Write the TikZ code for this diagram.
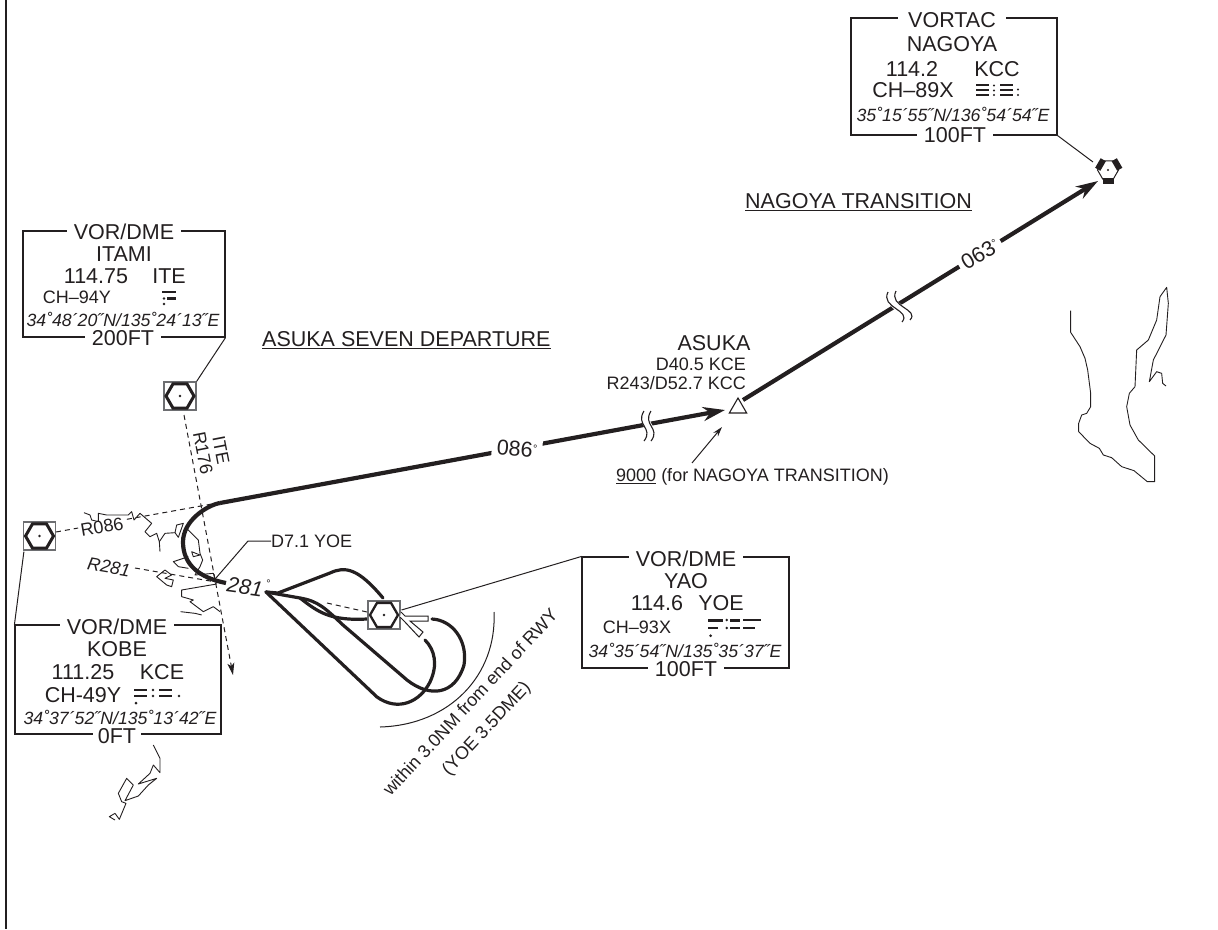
\documentclass[tikz,border=0pt]{standalone}
\usepackage{fontspec}
\setmainfont{Liberation Sans}
\usetikzlibrary{arrows.meta,shapes.geometric}
\definecolor{chartink}{HTML}{231F20}
\definecolor{symgray}{HTML}{6D6E71}
\tikzset{
  every node/.style={text=chartink,inner sep=0pt},
  txt/.style={font=\fontsize{21.5}{21.5}\selectfont},
  small/.style={font=\fontsize{18}{18}\selectfont},
  coords/.style={font=\fontsize{17.7}{17.7}\selectfont\itshape},
  gapped/.style={txt,fill=white,inner xsep=7pt,inner ysep=0pt},
  stationbox/.style={draw=chartink,fill=white,line width=1.1pt,rectangle},
  navbox/.style={draw=symgray,line width=1.2pt,fill=white,rectangle,minimum width=32pt,minimum height=28pt},
  navhex/.style={draw=chartink,regular polygon,regular polygon sides=6,minimum size=28pt},
  tacanbar/.style={fill=chartink,rectangle,minimum width=11pt,minimum height=6pt},
  route/.style={draw=chartink,line width=4.2pt},
  track/.style={draw=chartink,line width=3.2pt,line cap=round},
  radial/.style={draw=chartink,line width=1pt,dash pattern=on 5pt off 4pt},
  thin line/.style={draw=chartink,line width=1pt},
  coast/.style={draw=chartink,line width=0.9pt,line join=round},
  squig/.style={draw=chartink,line width=1.1pt},
  morse/.style={draw=chartink,line width=2.2pt},
}
\newcommand{\degmark}{\raisebox{0.25em}{\fontsize{11}{11}\selectfont°}}
\begin{document}
\begin{tikzpicture}[x=1pt,y=-1pt]
  \useasboundingbox (0,0) rectangle (1218,929);
  \draw[draw=chartink,line width=1.7pt] (6,0) -- (6,929);

  \draw[coast,shift={(1020,270)},scale=0.33333] (152,122) -- (152,187) -- (180,230) -- (195,265) -- (203,300) -- (212,370) -- (212,410) -- (200,430) -- (185,435) -- (176,460) -- (176,485) -- (210,520) -- (238,535) -- (250,555) -- (275,563) -- (305,590) -- (342,602) -- (382,635) -- (404,635) -- (404,558) -- (355,510) -- (330,465) -- (320,410) -- (328,370) -- (345,350) -- (350,240) -- (385,210) -- (410,150) -- (420,80) -- (440,52) -- (445,100) -- (438,195) -- (400,270) -- (388,335) -- (410,305) -- (425,310) -- (428,340) -- (438,348);
  \draw[coast,shift={(0,370)},scale=0.33333] (252,428) -- (270,435) -- (275,450) -- (295,455) -- (295,430) -- (320,435) -- (385,435) -- (395,425) -- (402,450) -- (420,430) -- (455,460) -- (435,485) -- (450,500) -- (470,490) -- (478,515) -- (480,545);
  \draw[coast,shift={(0,370)},scale=0.33333] (478,515) -- (495,490) -- (525,488) -- (530,465) -- (550,460) -- (535,502) -- (525,488);
  \draw[coast,shift={(0,370)},scale=0.33333] (560,475) -- (595,510) -- (600,550) -- (608,570) -- (600,590) -- (585,615) -- (640,610) -- (650,640);
  \draw[coast,shift={(0,370)},scale=0.33333] (575,545) -- (600,555) -- (580,560) -- cycle;
  \draw[coast,shift={(0,370)},scale=0.33333] (565,560) -- (520,575) -- (535,590) -- (565,595);
  \draw[coast,shift={(0,370)},scale=0.33333] (470,620) -- (495,600) -- (515,615) -- (495,625) -- (520,630) -- (515,650) -- (500,645) -- cycle;
  \draw[coast,shift={(0,370)},scale=0.33333] (650,642) -- (545,660) -- (545,680) -- (580,690) -- (570,695) -- (610,725) -- (640,710) -- (660,725);
  \draw[coast,shift={(0,370)},scale=0.33333] (542,725) -- (585,730) -- (605,735);
  \draw[coast,shift={(0,610)},scale=0.33333] (460,405) -- (480,445) -- (480,488) -- (460,465) -- (450,490) -- (415,522) -- (470,505) -- (445,525) -- (415,558) -- (375,572) -- (400,525) -- (380,505) -- (355,550) -- (365,575) -- (378,580) -- (358,628) -- (345,610) -- (328,620) -- (345,630);

  \node[navbox] (itami) at (180,396) {};
  \node[navhex,line width=3pt] (itamihex) at (itami) {};
  \fill[chartink] (itami) circle (1.4);
  \node[navbox] (kobe) at (39.5,536) {};
  \node[navhex,line width=3pt] (kobehex) at (kobe) {};
  \fill[chartink] (kobe) circle (1.4);

  \coordinate (itestart) at (184,415);
  \coordinate (iteend) at (233,675);
  \draw[radial,-{Stealth[length=12pt,width=7pt,inset=3pt]}] (itestart) -- (iteend);
  \coordinate (kobeend) at (212,504);
  \draw[radial] (56,532) -- (kobeend);
  \coordinate (yaoin) at (135,568);
  \coordinate (yaoend) at (216,582);
  \draw[radial] (yaoin) -- (yaoend);

  \coordinate (turnend) at (220,503);
  \coordinate (asukain) at (725,410);
  \node[draw=chartink,line width=1.1pt,regular polygon,regular polygon sides=3,minimum size=20pt] (asuka) at (738,408) {};
  \draw[route,-{Stealth[length=22pt,width=14pt,inset=7pt]}] (turnend) -- (asukain);
  \draw[route] (turnend) .. controls (208,505) and (183,520) .. (183,542) .. controls (183,565) and (200,578) .. (226,583);
  \coordinate (asukaout) at (743,400);
  \coordinate (nagoyain) at (1098,181);
  \draw[route,-{Stealth[length=22pt,width=14pt,inset=7pt]}] (asukaout) -- (nagoyain);

  \draw[white,line width=8pt] (648,411) .. controls (639,425) and (658,428) .. (648,441);
  \draw[squig] (644,411) .. controls (635,425) and (654,428) .. (644,441);
  \draw[squig] (651,411) .. controls (642,425) and (661,428) .. (651,441);
  \draw[white,line width=8pt] (892,291.5) .. controls (884,308) and (916,310) .. (906,321);
  \draw[squig] (888,292) .. controls (880,308) and (912,310) .. (902,322);
  \draw[squig] (896,291) .. controls (888,307) and (920,309) .. (910,320);

  \node[txt,fill=white,inner xsep=5pt,inner ysep=3pt,rotate=-5] (routelabela) at (517,449) {086\degmark};
  \node[txt,fill=white,inner xsep=4pt,inner ysep=2pt,rotate=31] (routelabelb) at (980,254) {063\degmark};

  \coordinate (holdstart) at (266,592);
  \draw[track] (holdstart) -- (278,593) -- (330,573) .. controls (345,566) and (358,568) .. (383,598);
  \draw[track] (holdstart) -- (377,697) .. controls (398,712) and (420,702) .. (430,682) .. controls (438,665) and (435,650) .. (425,640);
  \draw[track] (holdstart) -- (300,598) .. controls (318,601) and (325,608) .. (343,625) -- (407,680) .. controls (430,698) and (455,695) .. (464,665) .. controls (468,640) and (452,620) .. (432,619);
  \draw[track] (300,598) .. controls (318,612) and (330,621) .. (367,619);
  \coordinate (rwystart) at (327,603);
  \coordinate (yaodash) at (367,612);
  \draw[radial] (rwystart) -- (yaodash);
  \node[navbox] (yao) at (384,615) {};
  \node[navhex,line width=2.3pt] (yaohex) at (yao) {};
  \fill[chartink] (yao) circle (1.4);
  \draw[draw=chartink,fill=white,line width=1pt] (401,612) -- (405,616) -- (428,616) -- (428,621) -- (410,621) -- (423,632) -- (419,637) -- (405,622) -- (400,617);

  \node[navhex,minimum size=21pt,line width=1pt] (nagoya) at (1108,170) {};
  \fill[chartink] (nagoya) circle (1.2);
  \node[tacanbar] (tacana) at (1108.5,180.5) {};
  \node[tacanbar,rotate=60] (tacanb) at (1100.5,164.5) {};
  \node[tacanbar,rotate=-60] (tacanc) at (1117,164.5) {};

  \draw[thin line] (380,727) .. controls (450,725) and (497,675) .. (494,612);
  \node[small,rotate=47] (rwylabel) at (470,702) {within 3.0NM from end of RWY};
  \node[small,rotate=47] (dmelabel) at (487,729) {(YOE 3.5DME)};

  \node[stationbox,minimum width=206pt,minimum height=117pt] (nagoyabox) at (954,76.5) {};
  \node[gapped,inner xsep=10pt] (nagoyatype) at (952,20) {VORTAC};
  \node[txt] (nagoyaname) at (952,44) {NAGOYA};
  \node[txt] (nagoyafreq) at (912,69) {114.2};
  \node[txt] (nagoyaid) at (997,69) {KCC};
  \node[txt] (nagoyach) at (913,90) {CH–89X};
  \node[coords] (nagoyapos) at (953,114) {35˚15´55˝N/136˚54´54˝E};
  \node[gapped] (nagoyaalt) at (955,135) {100FT};
  \draw[morse,line width=1.5pt] (976,85) -- (989,85) (976,90) -- (989,90) (976,95) -- (989,95) (1000,85) -- (1013,85) (1000,90) -- (1013,90) (1000,95) -- (1013,95);
  \fill[chartink] (994,85.5) circle (1.1) (994,90.5) circle (1.1) (994,95) circle (1.1) (1018,89.5) circle (1.1) (1018,95) circle (1.1);
  \draw[thin line] (nagoyabox.south east) -- (1093,162);

  \node[stationbox,minimum width=202pt,minimum height=106pt] (itamibox) at (124,284) {};
  \node[gapped] (itamitype) at (124,232) {VOR/DME};
  \node[txt] (itaminame) at (124,254) {ITAMI};
  \node[txt] (itamifreq) at (96,276) {114.75};
  \node[txt] (itamiid) at (169,276) {ITE};
  \node[small] (itamich) at (77,297) {CH–94Y};
  \node[coords] (itamipos) at (123,319) {34˚48´20˝N/135˚24´13˝E};
  \node[gapped] (itamialt) at (123,338) {200FT};
  \draw[morse] (162,291.7) -- (176,291.7) (167,298.5) -- (176,298.5);
  \fill[chartink] (164,298.5) circle (1.4) (164,304) circle (1.4);
  \draw[thin line] (itamibox.south east) -- (itami.north east);

  \node[stationbox,minimum width=206pt,minimum height=109pt] (kobebox) at (118,679.5) {};
  \node[gapped] (kobetype) at (117,627) {VOR/DME};
  \node[txt] (kobename) at (117,649) {KOBE};
  \node[txt] (kobefreq) at (83,672) {111.25};
  \node[txt] (kobeid) at (162,672) {KCE};
  \node[txt] (kobech) at (83,695) {CH-49Y};
  \node[coords] (kobepos) at (120,717) {34˚37´52˝N/135˚13´42˝E};
  \node[gapped,inner xsep=5pt] (kobealt) at (117,736) {0FT};
  \draw[morse] (134,690) -- (147,690) (134,696) -- (147,696) (159,690) -- (172,690) (159,696) -- (172,696);
  \fill[chartink] (136,703) circle (1.5) (153,690) circle (1.4) (153,696) circle (1.4) (179,696) circle (1.4);
  \draw[thin line] (kobe.south west) ++(1,1) -- (kobebox.north west);

  \node[stationbox,minimum width=207pt,minimum height=111pt] (yaobox) at (685.5,612.5) {};
  \node[gapped] (yaotype) at (686,559) {VOR/DME};
  \node[txt] (yaoname) at (686,581) {YAO};
  \node[txt] (yaofreq) at (657,603) {114.6};
  \node[txt] (yaoid) at (721,603) {YOE};
  \node[small] (yaoch) at (637,627) {CH–93X};
  \node[coords] (yaopos) at (685,650) {34˚35´54˝N/135˚35´37˝E};
  \node[gapped] (yaoalt) at (686,669) {100FT};
  \draw[morse] (708,620.5) -- (723,620.5) (708,628) -- (718,628) (730,620.5) -- (740,620.5) (730,628) -- (740,628) (743,620) -- (761,620) (743,628) -- (755,628);
  \fill[chartink] (710.7,635.7) circle (1.5) (726.7,620) circle (1.4) (726.7,628) circle (1.4);
  \draw[thin line] (yaobox.north west) -- (401.5,610);

  \node[small,anchor=west] (d71label) at (271,541) {D7.1 YOE};
  \coordinate (d71knee) at (248,541);
  \draw[thin line] (216,578) -- (d71knee) -- (d71label.west);
  \node[txt,rotate=-8] (holdlabel) at (245,587) {\itshape 281};
  \node[font=\fontsize{11}{11}\selectfont] (holddeg) at (268.5,584) {°};
  \node[small,rotate=10,fill=white,inner xsep=2pt] (r086label) at (102,527) {R086};
  \node[small,rotate=-10] (r281label) at (109,567) {\itshape R281};
  \node[small,rotate=-79] (r176label) at (203,453) {R176};
  \node[small,rotate=-79] (itelabel) at (221,450) {ITE};

  \node[txt] (asukaname) at (714,343) {ASUKA};
  \node[small,anchor=east] (asukad) at (746,364) {D40.5 KCE};
  \node[small,anchor=east] (asukar) at (746,383) {R243/D52.7 KCC};
  \node[small,anchor=west] (altlabel) at (616,477) {\underline{9000} (for NAGOYA TRANSITION)};
  \coordinate (altarrow) at (692,463);
  \coordinate (alttip) at (722,427);
  \draw[thin line,-{Stealth[length=10pt,width=6pt]}] (altarrow) -- (alttip);
  \node[txt,anchor=west] (nagoyatitle) at (745,202) {\underline{NAGOYA TRANSITION}};
  \node[txt,anchor=west] (asukatitle) at (262,340) {\underline{ASUKA SEVEN DEPARTURE}};
\end{tikzpicture}
\end{document}
